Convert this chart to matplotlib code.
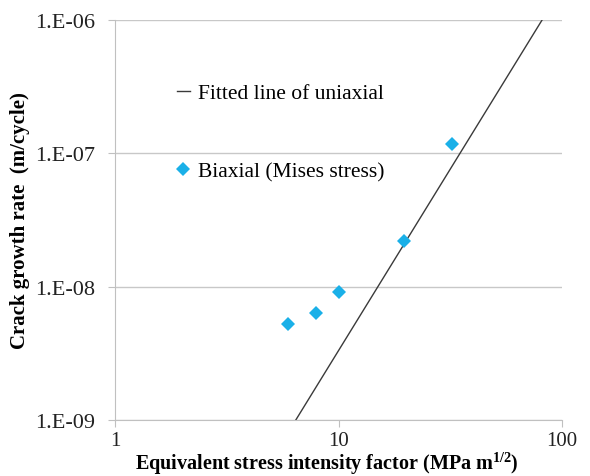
import numpy as np
import matplotlib
matplotlib.use('Agg')
import matplotlib.pyplot as plt
from matplotlib.ticker import FuncFormatter, FixedLocator, NullLocator

# Biaxial test points (Mises stress)
dk_biaxial = [5.95, 7.95, 10.0, 19.6, 32.2]
rate_biaxial = [5.2e-9, 6.3e-9, 9.1e-9, 2.18e-8, 1.17e-7]

# Paris-law fit of uniaxial data: da/dN = C * dK^m
paris_m = 2.72
paris_logC = -11.20

x_ticks = [1, 10, 100]
y_ticks = [1e-9, 1e-8, 1e-7, 1e-6]

plt.rcParams['font.family'] = ['Liberation Serif', 'DejaVu Serif']
plt.rcParams['mathtext.fontset'] = 'custom'
plt.rcParams['mathtext.rm'] = 'Liberation Serif'
plt.rcParams['mathtext.bf'] = 'Liberation Serif:bold'
plt.rcParams['mathtext.default'] = 'bf'

fig = plt.figure(figsize=(5.9, 4.77), dpi=100)
ax = fig.add_axes([0.195, 0.1174, 0.7575, 0.8392])

dk_line = np.logspace(0, 2, 400)
rate_line = 10 ** paris_logC * dk_line ** paris_m
ax.plot(dk_line, rate_line, color='#3a3a3a', linewidth=1.0, label='Fitted line of uniaxial')
ax.plot(dk_biaxial, rate_biaxial, linestyle='none', marker='D', markersize=7,
        color='#1ab0e8', markeredgewidth=0, label='Biaxial (Mises stress)')

ax.set_xscale('log')
ax.set_yscale('log')
ax.set_xlim(1, 100)
ax.set_ylim(1e-9, 1e-6)

ax.xaxis.set_major_locator(FixedLocator(x_ticks))
ax.yaxis.set_major_locator(FixedLocator(y_ticks))
ax.xaxis.set_minor_locator(NullLocator())
ax.yaxis.set_minor_locator(NullLocator())
ax.xaxis.set_major_formatter(FuncFormatter(lambda v, p: '%g' % v))
ax.yaxis.set_major_formatter(FuncFormatter(lambda v, p: '1.E%03d' % int(round(np.log10(v)))))

ax.grid(axis='y', color='#c8c8c8', linewidth=1.0)
ax.set_axisbelow(True)
for s in ['top', 'right']:
    ax.spines[s].set_visible(False)
for s in ['left', 'bottom']:
    ax.spines[s].set_color('#c0c0c0')
ax.tick_params(axis='both', colors='#c0c0c0', labelcolor='#222222', length=5)
ax.tick_params(axis='x', pad=3, labelsize=15)
ax.tick_params(axis='y', pad=9, labelsize=16)

ax.set_xlabel('Equivalent stress intensity factor (MPa m$^{1/2}$)', fontsize=14.5,
              fontweight='bold', va='center')
ax.xaxis.set_label_coords(0.474, -0.107)
ax.set_ylabel('Crack growth rate  (m/cycle)', fontsize=15, fontweight='bold', labelpad=4)

leg = ax.legend(loc='upper left', bbox_to_anchor=(0.095, 0.89), frameon=False,
                fontsize=15.5, handlelength=0.6, handletextpad=0.4, labelspacing=2.7)

fig.savefig('out.png', dpi=100)
